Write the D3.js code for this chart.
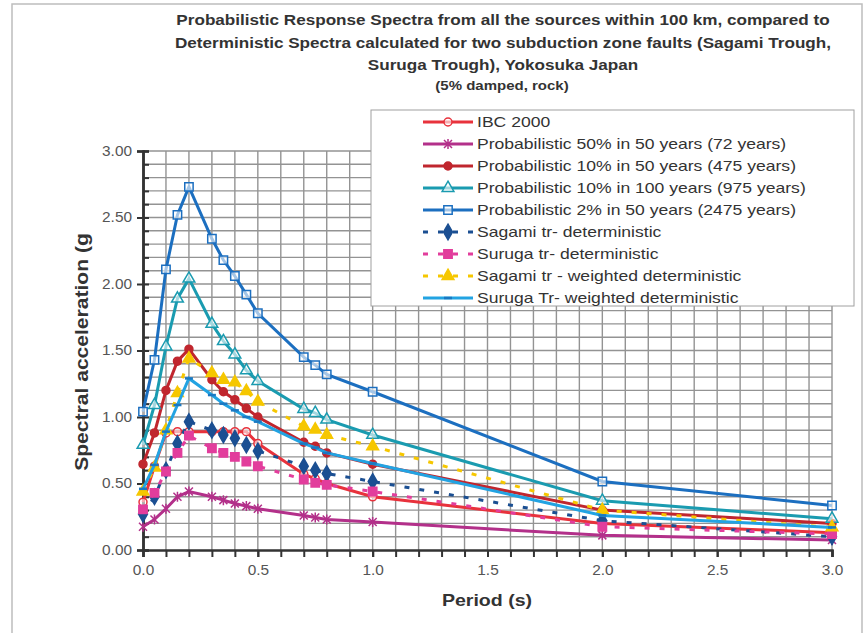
<!DOCTYPE html>
<html>
<head>
<meta charset="utf-8">
<script src="https://cdn.jsdelivr.net/npm/d3@7"></script>
<style>
  body { margin: 0; background: #fff; }
  svg { display: block; font-family: "Liberation Sans", Arial, sans-serif; }
</style>
</head>
<body>
<svg width="866" height="633"></svg>
<script>
// *** Data ***
var periods = [0, 0.05, 0.1, 0.15, 0.2, 0.3, 0.35, 0.4, 0.45, 0.5, 0.7, 0.75, 0.8, 1.0, 2.0, 3.0];

var ibc2000      = [0.36, 0.63, 0.88, 0.89, 0.89, 0.89, 0.89, 0.89, 0.89, 0.80, 0.57, 0.535, 0.50, 0.40, 0.20, 0.13];
var prob50in50   = [0.175, 0.23, 0.31, 0.40, 0.44, 0.40, 0.375, 0.35, 0.33, 0.31, 0.26, 0.245, 0.23, 0.21, 0.11, 0.075];
var prob10in50   = [0.645, 0.88, 1.20, 1.42, 1.51, 1.28, 1.19, 1.13, 1.065, 1.00, 0.81, 0.78, 0.73, 0.645, 0.30, 0.20];
var prob10in100  = [0.79, 1.09, 1.53, 1.89, 2.04, 1.70, 1.57, 1.47, 1.35, 1.27, 1.06, 1.03, 0.98, 0.865, 0.37, 0.235];
var prob2in50    = [1.04, 1.43, 2.11, 2.52, 2.73, 2.34, 2.18, 2.06, 1.92, 1.78, 1.45, 1.39, 1.32, 1.19, 0.515, 0.335];
var sagamiDet    = [0.27, 0.40, 0.60, 0.80, 0.965, 0.90, 0.865, 0.84, 0.79, 0.745, 0.63, 0.60, 0.575, 0.515, 0.22, 0.10];
var surugaDet    = [0.305, 0.43, 0.59, 0.73, 0.86, 0.765, 0.73, 0.70, 0.665, 0.63, 0.53, 0.505, 0.49, 0.44, 0.175, 0.12];
var sagamiWeight = [0.44, 0.62, 0.90, 1.18, 1.44, 1.33, 1.28, 1.26, 1.195, 1.115, 0.93, 0.905, 0.865, 0.78, 0.30, 0.17];
var surugaWeight = [0.46, 0.64, 0.89, 1.09, 1.29, 1.165, 1.10, 1.05, 1.00, 0.965, 0.80, 0.77, 0.73, 0.65, 0.26, 0.17];

var seriesNames = [
    "IBC 2000",
    "Probabilistic 50% in 50 years (72 years)",
    "Probabilistic 10% in 50 years (475 years)",
    "Probabilistic 10% in 100 years (975 years)",
    "Probabilistic 2% in 50 years (2475 years)",
    "Sagami tr- deterministic",
    "Suruga tr- deterministic",
    "Sagami tr - weighted deterministic",
    "Suruga Tr- weighted deterministic"
];
var seriesValues = [ibc2000, prob50in50, prob10in50, prob10in100, prob2in50, sagamiDet, surugaDet, sagamiWeight, surugaWeight];

var xTicks = [0, 0.5, 1.0, 1.5, 2.0, 2.5, 3.0];
var yTicks = [0, 0.5, 1.0, 1.5, 2.0, 2.5, 3.0];

var titleLines = [
    "Probabilistic Response Spectra from all the sources within 100 km, compared to",
    "Deterministic Spectra calculated for two subduction zone faults (Sagami Trough,",
    "Suruga Trough), Yokosuka Japan"
];
var subTitle = "(5% damped, rock)";

// *** Styles per series ***
var styles = [
    { color: "#e8323c", marker: "circle", fill: "none", dash: null },
    { color: "#b3308a", marker: "asterisk", fill: "none", dash: null },
    { color: "#c0262e", marker: "circle", fill: "solid", dash: null },
    { color: "#1a9bb0", marker: "triangle", fill: "none", dash: null },
    { color: "#1c6fc0", marker: "square", fill: "none", dash: null },
    { color: "#1b4f92", marker: "diamond", fill: "solid", dash: "5,10" },
    { color: "#e23d9c", marker: "square", fill: "solid", dash: "5,10" },
    { color: "#f6c700", marker: "triangle", fill: "solid", dash: "5,10" },
    { color: "#22a3e2", marker: "dash", fill: "solid", dash: null }
];

// the original picture is stretched sideways, so the text is widened to match
function stretch(sel, k) {
    sel.each(function () {
        var len = this.getComputedTextLength();
        d3.select(this)
            .attr("textLength", len * k)
            .attr("lengthAdjust", "spacingAndGlyphs");
    });
}

var svg = d3.select("svg");

// outer frame
svg.append("rect")
    .attr("x", 12).attr("y", 4)
    .attr("width", 850).attr("height", 660)
    .attr("fill", "none")
    .attr("stroke", "#bdbdbd")
    .attr("stroke-width", 1.5);

// *** Scales ***
var xScale = d3.scaleLinear().domain([0, 3]).range([143, 832]);
var yScale = d3.scaleLinear().domain([0, 3]).range([550, 151]);

// *** Grid ***
var gridVals = d3.range(0, 31).map(function (i) { return i / 10; });
var grid = svg.append("g").attr("stroke", "#939393").attr("stroke-width", 1.4);
grid.selectAll(".gx").data(gridVals.slice(1)).enter().append("line")
    .attr("x1", function (d) { return xScale(d); })
    .attr("x2", function (d) { return xScale(d); })
    .attr("y1", yScale(0)).attr("y2", yScale(3));
grid.selectAll(".gy").data(gridVals.slice(1)).enter().append("line")
    .attr("y1", function (d) { return yScale(d); })
    .attr("y2", function (d) { return yScale(d); })
    .attr("x1", xScale(0)).attr("x2", xScale(3));

// *** Axes ***
var yMinor = svg.append("g")
    .attr("transform", "translate(" + xScale(0) + ",0)")
    .call(d3.axisRight(yScale).tickValues(gridVals).tickSize(6).tickFormat(""));
var yAxis = svg.append("g")
    .attr("transform", "translate(" + xScale(0) + ",0)")
    .call(d3.axisLeft(yScale).tickValues(yTicks).tickSize(6).tickPadding(5).tickFormat(d3.format(".2f")));
var xAxis = svg.append("g")
    .attr("transform", "translate(0," + yScale(0) + ")")
    .call(d3.axisBottom(xScale).tickValues(gridVals).tickSize(7).tickFormat(""));
var xLabels = svg.append("g")
    .attr("transform", "translate(0," + yScale(0) + ")")
    .call(d3.axisBottom(xScale).tickValues(xTicks).tickSize(7).tickPadding(8).tickFormat(d3.format(".1f")));

[yMinor, yAxis, xAxis, xLabels].forEach(function (a) {
    a.selectAll("path").attr("stroke", "#333").attr("stroke-width", 2.5);
    a.selectAll("line").attr("stroke", "#333").attr("stroke-width", 2);
    a.selectAll("text").attr("fill", "#555").style("font-size", "14px")
        .style("font-family", "'Liberation Sans', Arial, sans-serif");
});
xLabels.select("path").remove();
stretch(yAxis.selectAll("text"), 1.1);
stretch(xLabels.selectAll("text"), 1.1);

// *** Markers ***
function markerPath(type) {
    if (type === "circle") return d3.symbol(d3.symbolCircle, 50)();
    if (type === "triangle") return d3.symbol(d3.symbolTriangle, 60)();
    if (type === "square") return d3.symbol(d3.symbolSquare, 70)();
    if (type === "diamond") return d3.symbol(d3.symbolDiamond, 70)();
    if (type === "asterisk") return "M-4,-4L4,4M-4,4L4,-4M0,-5L0,5";
    if (type === "dash") return "M-4,0L4,0";
}

function drawMarker(sel, st) {
    var solid = st.fill === "solid";
    var lineOnly = st.marker === "asterisk" || st.marker === "dash";
    sel.append("path")
        .attr("d", markerPath(st.marker))
        .attr("fill", lineOnly ? "none" : (solid ? st.color : "#fff"))
        .attr("fill-opacity", solid ? 1 : 0.6)
        .attr("stroke", st.marker === "dash" ? "#1a78c2" : st.color)
        .attr("stroke-width", st.marker === "dash" ? 2.5 : 1.5);
}

// *** Series ***
var line = d3.line()
    .x(function (d) { return xScale(d[0]); })
    .y(function (d) { return yScale(d[1]); });

seriesValues.forEach(function (vals, i) {
    var st = styles[i];
    var pts = periods.map(function (p, j) { return [p, vals[j]]; });
    var g = svg.append("g");
    g.append("path")
        .datum(pts)
        .attr("d", line)
        .attr("fill", "none")
        .attr("stroke", st.color)
        .attr("stroke-width", 3)
        .attr("stroke-dasharray", st.dash);
    g.selectAll(".m").data(pts).enter().append("g")
        .attr("transform", function (d) { return "translate(" + xScale(d[0]) + "," + yScale(d[1]) + ")"; })
        .each(function () { drawMarker(d3.select(this), st); });
});

// *** Legend ***
var legend = svg.append("g");
legend.append("rect")
    .attr("x", 371).attr("y", 110)
    .attr("width", 483).attr("height", 196)
    .attr("fill", "#fff")
    .attr("stroke", "#a0a0a0")
    .attr("stroke-width", 1);

var rowY = d3.scaleLinear().domain([0, 8]).range([122, 298]);
seriesNames.forEach(function (name, i) {
    var st = styles[i];
    var y = rowY(i);
    var row = legend.append("g");
    row.append("line")
        .attr("x1", 423).attr("x2", 473)
        .attr("y1", y).attr("y2", y)
        .attr("stroke", st.color)
        .attr("stroke-width", 3)
        .attr("stroke-dasharray", st.dash);
    drawMarker(row.append("g").attr("transform", "translate(448," + y + ")"), st);
    row.append("text")
        .attr("x", 477).attr("y", y)
        .attr("dy", "0.35em")
        .attr("fill", "#333")
        .style("font-size", "15px")
        .text(name)
        .call(stretch, 1.17);
});

// *** Titles ***
svg.selectAll(".title").data(titleLines).enter().append("text")
    .attr("x", 503)
    .attr("y", function (d, i) { return 25 + i * 22.5; })
    .attr("text-anchor", "middle")
    .attr("fill", "#333")
    .style("font-size", "14.5px")
    .style("font-weight", "bold")
    .text(function (d) { return d; })
    .call(stretch, 1.18);
svg.append("text")
    .attr("x", 502).attr("y", 90)
    .attr("text-anchor", "middle")
    .attr("fill", "#333")
    .style("font-size", "12.5px")
    .style("font-weight", "bold")
    .text(subTitle)
    .call(stretch, 1.2);

svg.append("text")
    .attr("x", 487).attr("y", 606)
    .attr("text-anchor", "middle")
    .attr("fill", "#333")
    .style("font-size", "17px")
    .style("font-weight", "bold")
    .text("Period (s)")
    .call(stretch, 1.15);

svg.append("text")
    .attr("transform", "translate(88,352) rotate(-90)")
    .attr("text-anchor", "middle")
    .attr("fill", "#333")
    .style("font-size", "18px")
    .style("font-weight", "bold")
    .text("Spectral acceleration (g")
    .call(stretch, 1.17);
</script>
</body>
</html>
